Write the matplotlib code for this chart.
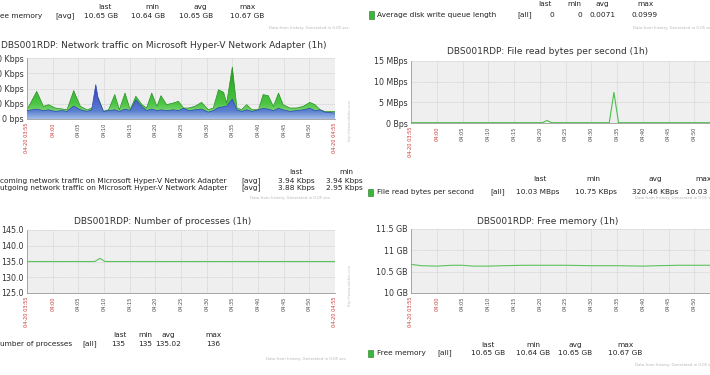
import numpy as np
import matplotlib
matplotlib.use("Agg")
import matplotlib.pyplot as plt
from matplotlib.colors import LinearSegmentedColormap
from matplotlib.patches import Rectangle

# ---------------- data ----------------
# minutes after 03:55
net_t = [0, 1.9, 3.2, 4.2, 5.5, 6.8, 7.8, 9.1, 10.4, 11.7, 12.6, 13.4, 13.9, 14.9, 15.9,
         17.1, 18.0, 19.1, 20.1, 21.2, 22.4, 23.3, 24.3, 25.3, 26.1, 27.2, 28.5, 29.5,
         30.5, 31.5, 32.7, 34.0, 35.3, 36.3, 37.3, 38.3, 38.9, 40.0, 40.9, 41.8, 42.8,
         43.8, 45.1, 46.0, 47.0, 48.0, 49.0, 49.9, 51.2, 52.5, 53.8, 55.1, 56.1, 57.1,
         58.0, 60.0]
net_in = [6.1, 18.1, 8.3, 9.4, 7.2, 6.6, 6.1, 18.6, 8.3, 6.0, 7.1, 11.0, 13.8, 5.0, 6.1,
          16.0, 6.1, 17.0, 6.1, 14.9, 9.4, 7.2, 17.0, 8.3, 15.3, 9.4, 10.5, 11.6,
          7.2, 7.2, 8.3, 10.9, 6.1, 7.2, 19.2, 17.5, 10.5, 34.1, 7.2, 6.1, 9.4,
          6.1, 6.1, 16.0, 15.3, 8.3, 17.0, 9.4, 7.2, 7.2, 8.3, 10.9, 9.4, 6.1,
          5.0, 5.0]
net_out = [5.5, 6.5, 5.5, 6.0, 5.0, 5.5, 5.0, 8.5, 6.0, 5.0, 6.0, 22.5, 13.0, 5.0, 5.5,
           6.0, 5.0, 6.5, 5.5, 12.5, 8.0, 5.5, 6.5, 5.5, 6.0, 5.5, 6.0, 5.5,
           7.0, 5.5, 6.0, 6.5, 4.5, 5.5, 7.5, 8.0, 8.5, 13.0, 6.0, 5.0, 6.0,
           5.0, 6.0, 7.0, 6.5, 5.5, 7.0, 6.0, 5.0, 5.5, 6.0, 7.0, 5.5, 6.0,
           4.5, 3.9]

read_t = [0, 25.5, 26.4, 27.3, 38.5, 39.4, 40.3, 60]
read_mbps = [0.08, 0.08, 0.6, 0.08, 0.08, 7.4, 0.08, 0.08]

proc_t = [0, 13.2, 14.2, 15.2, 60]
proc_n = [135, 135, 136, 135, 135]

mem_t = [0, 2, 5, 8, 10, 12, 15, 18, 22, 30, 35, 40, 45, 48, 52, 60]
mem_gb = [10.67, 10.64, 10.63, 10.65, 10.65, 10.63, 10.63, 10.64, 10.65, 10.65,
          10.64, 10.64, 10.63, 10.64, 10.65, 10.65]

time_labels = ["04-20 03:55", "04:00", "04:05", "04:10", "04:15", "04:20", "04:25",
               "04:30", "04:35", "04:40", "04:45", "04:50", "04-20 04:55"]
red_labels = {"04-20 03:55", "04:00", "04-20 04:55"}

net_yticks = [0, 10, 20, 30, 40]
net_ylabels = ["0 bps", "10 Kbps", "20 Kbps", "30 Kbps", "40 Kbps"]
read_yticks = [0, 5, 10, 15]
read_ylabels = ["0 Bps", "5 MBps", "10 MBps", "15 MBps"]
proc_yticks = [125, 130, 135, 140, 145]
proc_ylabels = ["125.0", "130.0", "135.0", "140.0", "145.0"]
mem_yticks = [10, 10.5, 11, 11.5]
mem_ylabels = ["10 GB", "10.5 GB", "11 GB", "11.5 GB"]

# ---------------- figure ----------------
W, H = 710, 375
fig = plt.figure(figsize=(W / 100, H / 100), dpi=100)
fig.patch.set_facecolor("white")

TXT = "#222222"


def px_axes(x0, y0, x1, y1):
    return fig.add_axes([x0 / W, 1 - y1 / H, (x1 - x0) / W, (y1 - y0) / H])


def T(x, y, s, **kw):
    kw.setdefault("color", TXT)
    kw.setdefault("fontsize", 5.3)
    kw.setdefault("va", "center")
    return fig.text(x / W, 1 - y / H, s, **kw)


def style(ax, yticks, ylabels, ymin, ymax, show_last=True):
    ax.set_facecolor("#efefef")
    ax.set_xlim(0, 60)
    ax.set_ylim(ymin, ymax)
    for s in ["top", "right"]:
        ax.spines[s].set_visible(False)
    for s in ["left", "bottom"]:
        ax.spines[s].set_color("#999999")
        ax.spines[s].set_linewidth(0.6)
    ticks = np.arange(0, 61, 5) if show_last else np.arange(0, 56, 5)
    labels = time_labels if show_last else time_labels[:-1]
    ax.set_xticks(ticks)
    ax.set_xticklabels(labels, rotation=90, fontsize=3.6, va="top")
    for lbl in ax.get_xticklabels():
        lbl.set_color("#cc3333" if lbl.get_text() in red_labels else "#444444")
    ax.set_yticks(yticks)
    ax.set_yticklabels(ylabels, fontsize=5.7, color="#333333")
    ax.tick_params(axis="both", length=0, pad=2.5)
    for xv in range(5, 60, 5):
        ax.axvline(xv, color="#cfcfcf", lw=0.5, ls=(0, (2, 1)), zorder=0.5)
    for yv in yticks[1:]:
        ax.axhline(yv, color="#cfcfcf", lw=0.5, ls=(0, (2, 1)), zorder=0.5)


def grad_fill(ax, x, y, colors, ytop, zorder):
    poly = ax.fill_between(x, y, 0, facecolor="none", edgecolor="none", zorder=zorder)
    cmap = LinearSegmentedColormap.from_list("g", colors)
    grad = np.linspace(0, 1, 256).reshape(-1, 1)
    im = ax.imshow(grad, extent=[0, 60, 0, ytop], origin="lower", aspect="auto",
                   cmap=cmap, zorder=zorder, interpolation="bilinear")
    im.set_clip_path(poly.get_paths()[0], transform=ax.transData)


# ---- panel 1: network traffic ----
ax1 = px_axes(27, 58, 335, 119)
style(ax1, net_yticks, net_ylabels, 0, 40)
grad_fill(ax1, net_t, net_in, [(0, "#a8e4a0"), (0.3, "#4cc444"), (1, "#1f9c1a")], 34, 2)
ax1.plot(net_t, net_in, color="#2a8f25", lw=0.5, zorder=2.5)
grad_fill(ax1, net_t, net_out, [(0, "#a6bfe8"), (0.22, "#5a80d0"), (1, "#3a2fc8")], 23, 3)
ax1.plot(net_t, net_out, color="#2b4aa8", lw=0.5, zorder=3.5)
ax1.set_xlim(0, 60)
ax1.set_ylim(0, 40)

# ---- panel 2: file read ----
ax2 = px_axes(411, 61, 720, 123)
style(ax2, read_yticks, read_ylabels, 0, 15, show_last=False)
ax2.plot(read_t, read_mbps, color="#4cbf4c", lw=0.8, zorder=3)

# ---- panel 3: number of processes ----
ax3 = px_axes(27, 230, 335, 293)
style(ax3, proc_yticks, proc_ylabels, 125, 145)
ax3.plot(proc_t, proc_n, color="#5cc25c", lw=0.8, zorder=3)

# ---- panel 4: free memory ----
ax4 = px_axes(411, 229, 720, 293)
style(ax4, mem_yticks, mem_ylabels, 10, 11.5, show_last=False)
ax4.plot(mem_t, mem_gb, color="#5cc25c", lw=0.8, zorder=3)

# ---------------- titles ----------------
T(1, 46, "DBS001RDP: Network traffic on Microsoft Hyper-V Network Adapter (1h)", fontsize=6.5, color="#333333")
T(548, 51, "DBS001RDP: File read bytes per second (1h)", fontsize=6.5, color="#333333", ha="center")
T(163, 221, "DBS001RDP: Number of processes (1h)", fontsize=6.5, color="#333333", ha="center")
T(548, 221, "DBS001RDP: Free memory (1h)", fontsize=6.5, color="#333333", ha="center")

GEN = "Data from history. Generated in 0.05 sec."
gen_kw = dict(fontsize=2.8, color="#b5b5b5")


def square(x, y):
    fig.patches.append(Rectangle((x / W, 1 - (y + 3.5) / H), 5 / W, 7 / H,
                                 transform=fig.transFigure, facecolor="#3cb53c",
                                 edgecolor="#1d7a1d", lw=0.4))


# ---- top-left legend remains (free memory, cut) ----
for x, s in [(105, "last"), (152, "min"), (200, "avg"), (248, "max")]:
    T(x, 7, s, ha="center")
T(0, 16, "ee memory")
T(55, 16, "[avg]")
for x, s in [(101, "10.65 GB"), (148, "10.64 GB"), (196, "10.65 GB"), (247, "10.67 GB")]:
    T(x, 16, s, ha="center")
T(350, 28, GEN, ha="right", **gen_kw)

# ---- top-right legend (disk queue) ----
square(369, 15)
T(377, 15, "Average disk write queue length")
T(517, 15, "[all]")
for x, s in [(545, "last"), (574, "min"), (602, "avg"), (645, "max")]:
    T(x, 4, s, ha="center")
for x, s in [(552, "0"), (580, "0"), (603, "0.0071"), (645, "0.0999")]:
    T(x, 15, s, ha="center")
T(633, 28, GEN, **gen_kw)

# ---- network legend ----
T(296, 172, "last", ha="center")
T(346, 172, "min", ha="center")
T(0, 181, "coming network traffic on Microsoft Hyper-V Network Adapter")
T(0, 188, "utgoing network traffic on Microsoft Hyper-V Network Adapter")
T(241, 181, "[avg]")
T(241, 188, "[avg]")
T(296, 181, "3.94 Kbps", ha="center")
T(296, 188, "3.88 Kbps", ha="center")
T(326, 181, "3.94 Kbps")
T(326, 188, "2.95 Kbps")
T(250, 198, GEN, **gen_kw)

# ---- file read legend ----
square(368, 192)
T(377, 192, "File read bytes per second")
T(490, 192, "[all]")
for x, s in [(540, "last"), (593, "min"), (655, "avg"), (704, "max")]:
    T(x, 179, s, ha="center")
for x, s in [(538, "10.03 MBps"), (596, "10.75 KBps"), (655, "320.46 KBps")]:
    T(x, 192, s, ha="center")
T(686, 192, "10.03 MBps")
T(635, 198, GEN, **gen_kw)

# ---- processes legend ----
for x, s in [(120, "last"), (145, "min"), (168, "avg"), (213, "max")]:
    T(x, 335, s, ha="center")
T(0, 344, "umber of processes")
T(82, 344, "[all]")
for x, s in [(118, "135"), (145, "135"), (168, "135.02"), (213, "136")]:
    T(x, 344, s, ha="center")
T(347, 359, GEN, ha="right", **gen_kw)

# ---- free memory legend ----
square(368, 353)
T(377, 353, "Free memory")
T(437, 353, "[all]")
for x, s in [(488, "last"), (533, "min"), (575, "avg"), (625, "max")]:
    T(x, 345, s, ha="center")
for x, s in [(488, "10.65 GB"), (533, "10.64 GB"), (575, "10.65 GB"), (625, "10.67 GB")]:
    T(x, 353, s, ha="center")
T(635, 365, GEN, **gen_kw)

# vertical watermarks
for y in (120, 285):
    T(350, y, "http://www.zabbix.com", rotation=90, ha="center", fontsize=2.6, color="#c0c0c0")

fig.savefig("out.png", dpi=100, facecolor="white")
